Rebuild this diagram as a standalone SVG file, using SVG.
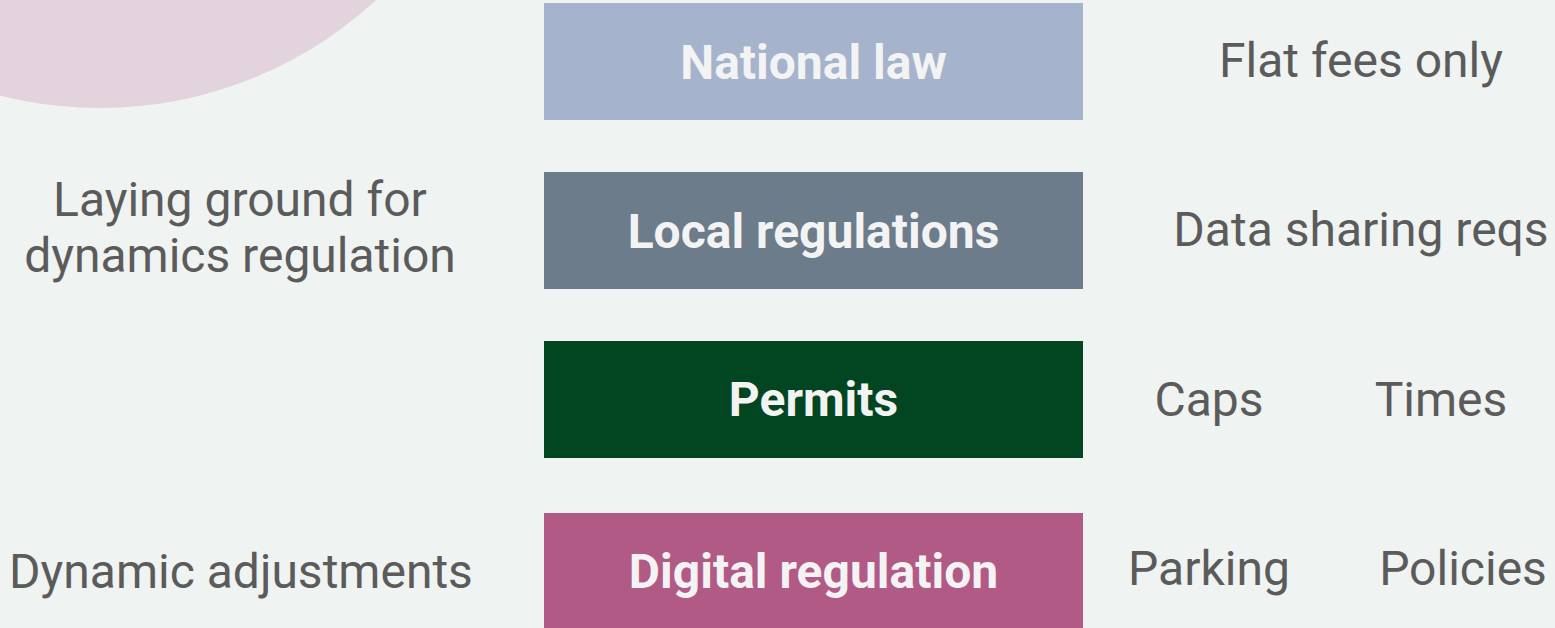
<svg xmlns="http://www.w3.org/2000/svg" width="1555" height="628" viewBox="0 0 1555 628">
  <style>
    .box-label { font-family: Roboto, "Liberation Sans", sans-serif; font-weight: 700; font-size: 48px; fill: #F3F3F3; text-anchor: middle; }
    .note { font-family: Roboto, "Liberation Sans", sans-serif; font-weight: 400; font-size: 48px; fill: #5B5B5B; }
    .mid { text-anchor: middle; }
  </style>
  <!-- page background -->
  <rect x="0" y="0" width="1555" height="628" fill="#EFF3F1"/>
  <!-- decorative circle, top left -->
  <circle cx="100" cy="-299" r="407" fill="#E3D3DD"/>

  <g id="national-law">
    <rect x="544" y="3" width="539" height="117" fill="#A6B3CC"/>
    <text class="box-label" x="813.5" y="79">National law</text>
  </g>
  <g id="local-regulations">
    <rect x="544" y="172" width="539" height="117" fill="#6C7C8A"/>
    <text class="box-label" x="813.5" y="248">Local regulations</text>
  </g>
  <g id="permits">
    <rect x="544" y="341" width="539" height="117" fill="#014621"/>
    <text class="box-label" x="813.5" y="416">Permits</text>
  </g>
  <g id="digital-regulation">
    <rect x="544" y="513" width="539" height="117" fill="#B25A86"/>
    <text class="box-label" x="813.5" y="588">Digital regulation</text>
  </g>

  <g id="notes-left">
    <text class="note mid" x="240" y="216">Laying ground for</text>
    <text class="note mid" x="240" y="272">dynamics regulation</text>
    <text class="note mid" x="241" y="588">Dynamic adjustments</text>
  </g>
  <g id="notes-right">
    <text class="note mid" x="1361" y="77">Flat fees only</text>
    <text class="note mid" x="1361" y="246">Data sharing reqs</text>
    <text class="note mid" x="1209" y="416">Caps</text>
    <text class="note mid" x="1441" y="416">Times</text>
    <text class="note mid" x="1209" y="585">Parking</text>
    <text class="note mid" x="1463" y="585">Policies</text>
  </g>

  <g id="connectors"></g>
</svg>
